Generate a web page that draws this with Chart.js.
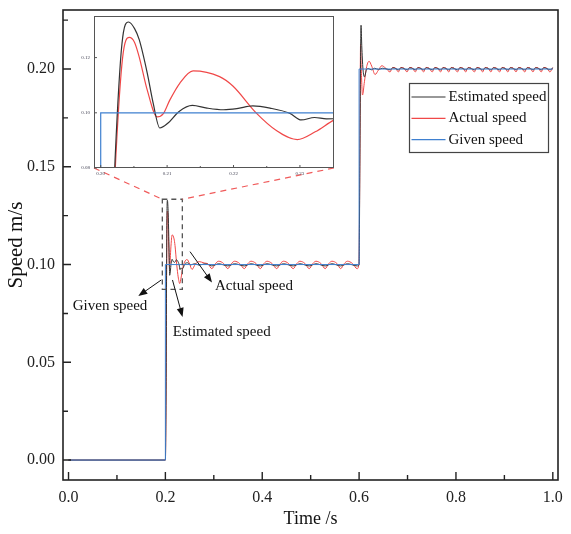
<!DOCTYPE html>
<html>
<head>
<meta charset="utf-8">
<script src="https://cdn.jsdelivr.net/npm/chart.js@4.4.0/dist/chart.umd.min.js"></script>
<style>
  html, body { margin: 0; padding: 0; background: #fff; }
  #wrap { position: relative; width: 571px; height: 534px; }
  canvas { position: absolute; }
</style>
</head>
<body>
<div id="wrap">
  <canvas id="main" width="571" height="534"></canvas>
  <canvas id="inset" width="262" height="172"></canvas>
</div>
<script>
const SERIF = '"Liberation Serif", "Times New Roman", serif';

const seriesNames = ['Estimated speed', 'Actual speed', 'Given speed'];
const seriesColors = ['#333333', '#f04848', '#3f80d0'];

// given speed (reference steps)
const givenT = [0, 0.2, 0.2, 0.6, 0.6, 1.0];
const givenV = [0, 0, 0.1, 0.1, 0.2, 0.2];

// estimated speed
const estT = [
  0, 0.2, 0.2015, 0.2022, 0.2032, 0.2042, 0.2051, 0.2058, 0.207, 0.2079,
  0.2089, 0.2101, 0.2118, 0.2138, 0.216, 0.2185, 0.2205, 0.2229, 0.2255, 0.2285,
  0.2302, 0.2322, 0.234, 0.2365, 0.24, 0.246, 0.252, 0.26, 0.27, 0.28, 0.288,
  0.296, 0.310, 0.329, 0.343, 0.363, 0.377, 0.396, 0.410, 0.430, 0.444,
  0.464, 0.478, 0.497, 0.511, 0.530, 0.544, 0.562, 0.576, 0.596,
  0.6, 0.6015, 0.6028, 0.604, 0.6055, 0.608, 0.611, 0.615, 0.619, 0.625, 0.632, 0.64, 0.648, 0.656,
  0.664, 0.670, 0.676, 0.681, 0.687, 0.693, 0.699, 0.705, 0.711, 0.716, 0.722, 0.728,
  0.733, 0.739, 0.745, 0.751, 0.757, 0.763, 0.768, 0.774, 0.780, 0.785, 0.791, 0.797,
  0.803, 0.809, 0.815, 0.820, 0.826, 0.832, 0.838, 0.844, 0.850, 0.855, 0.861, 0.867,
  0.872, 0.878, 0.884, 0.890, 0.896, 0.902, 0.907, 0.913, 0.919, 0.924, 0.930, 0.936,
  0.942, 0.948, 0.954, 0.959, 0.965, 0.971, 0.976, 0.982, 0.988, 0.994, 1.0
];
const estV = [
  0, 0, 0.04, 0.085, 0.125, 0.1329, 0.1305, 0.1265, 0.1145, 0.1035,
  0.0945, 0.0962, 0.1005, 0.1027, 0.1017, 0.1011, 0.1015, 0.1025, 0.1017, 0.0998,
  0.0974, 0.0983, 0.0978, 0.0981, 0.1003, 0.1009, 0.0998, 0.1004, 0.0997, 0.1003, 0.1001,
  0.0993, 0.1004, 0.0993, 0.1004, 0.0993, 0.1004, 0.0993, 0.1004, 0.0993, 0.1004,
  0.0993, 0.1004, 0.0993, 0.1004, 0.0993, 0.1004, 0.0993, 0.1004, 0.0993,
  0.1, 0.15, 0.2, 0.2224, 0.212, 0.2, 0.196, 0.1995, 0.2003, 0.1996, 0.2004, 0.1998, 0.2004, 0.2001,
  0.1996, 0.2006, 0.2002, 0.1996, 0.2006, 0.2002, 0.1996, 0.2006, 0.2002, 0.1996, 0.2006, 0.2002,
  0.1996, 0.2006, 0.2002, 0.1996, 0.2006, 0.2002, 0.1996, 0.2006, 0.2002, 0.1996, 0.2006, 0.2002,
  0.1996, 0.2006, 0.2002, 0.1996, 0.2006, 0.2002, 0.1996, 0.2006, 0.2002, 0.1996, 0.2006, 0.2002,
  0.1996, 0.2006, 0.2002, 0.1996, 0.2006, 0.2002, 0.1996, 0.2006, 0.2002, 0.1996, 0.2006, 0.2002,
  0.1996, 0.2006, 0.2002, 0.1996, 0.2006, 0.2002, 0.1996, 0.2006, 0.2002, 0.1996, 0.2006
];

// actual speed
const actT = [
  0, 0.2, 0.2015, 0.2023, 0.2033, 0.2043, 0.2051, 0.2058, 0.207, 0.2085,
  0.2094, 0.2104, 0.2119, 0.2139, 0.2179, 0.2199, 0.2234, 0.2264, 0.2296, 0.2323,
  0.2353, 0.2395, 0.2447, 0.25, 0.255, 0.262, 0.27, 0.28, 0.288,
  0.296, 0.303, 0.310, 0.320, 0.329, 0.336, 0.343, 0.353, 0.363, 0.370, 0.377, 0.387,
  0.396, 0.403, 0.410, 0.420, 0.430, 0.437, 0.444, 0.454, 0.464, 0.471, 0.478, 0.488,
  0.497, 0.504, 0.511, 0.521, 0.530, 0.537, 0.544, 0.554, 0.562, 0.569, 0.576, 0.586, 0.596,
  0.5995, 0.6015, 0.603, 0.6045, 0.607, 0.611, 0.615, 0.6206, 0.626, 0.633, 0.64, 0.647, 0.655,
  0.664, 0.669, 0.675, 0.681, 0.686, 0.692, 0.699, 0.704, 0.710, 0.716, 0.721, 0.727,
  0.733, 0.738, 0.744, 0.751, 0.756, 0.762, 0.768, 0.773, 0.779, 0.785, 0.790, 0.796,
  0.803, 0.808, 0.814, 0.820, 0.825, 0.831, 0.838, 0.843, 0.849, 0.855, 0.860, 0.866,
  0.872, 0.877, 0.883, 0.890, 0.895, 0.901, 0.907, 0.912, 0.918, 0.924, 0.929, 0.935,
  0.942, 0.947, 0.953, 0.959, 0.964, 0.970, 0.976, 0.981, 0.987, 0.994, 1.0
];
const actV = [
  0, 0, 0.04, 0.085, 0.12, 0.1273, 0.1255, 0.1202, 0.1083, 0.0985,
  0.0996, 0.1046, 0.1107, 0.1152, 0.1131, 0.1097, 0.1, 0.0937, 0.0903, 0.0931,
  0.0976, 0.1012, 0.1026, 0.1003, 0.0975, 0.1003, 0.1015, 0.1008, 0.1003,
  0.0979, 0.1004, 0.1017, 0.1006, 0.0979, 0.1004, 0.1017, 0.1006, 0.0979, 0.1004, 0.1017, 0.1006,
  0.0979, 0.1004, 0.1017, 0.1006, 0.0979, 0.1004, 0.1017, 0.1006, 0.0979, 0.1004, 0.1017, 0.1006,
  0.0979, 0.1004, 0.1017, 0.1006, 0.0979, 0.1004, 0.1017, 0.1006, 0.0979, 0.1004, 0.1017, 0.1006, 0.0979,
  0.1, 0.15, 0.2126, 0.2, 0.1867, 0.1935, 0.2005, 0.204, 0.2015, 0.1972, 0.1995, 0.2017, 0.2004,
  0.1985, 0.2008, 0.2006, 0.1985, 0.2008, 0.2006, 0.1985, 0.2008, 0.2006, 0.1985, 0.2008, 0.2006,
  0.1985, 0.2008, 0.2006, 0.1985, 0.2008, 0.2006, 0.1985, 0.2008, 0.2006, 0.1985, 0.2008, 0.2006,
  0.1985, 0.2008, 0.2006, 0.1985, 0.2008, 0.2006, 0.1985, 0.2008, 0.2006, 0.1985, 0.2008, 0.2006,
  0.1985, 0.2008, 0.2006, 0.1985, 0.2008, 0.2006, 0.1985, 0.2008, 0.2006, 0.1985, 0.2008, 0.2006,
  0.1985, 0.2008, 0.2006, 0.1985, 0.2008, 0.2006, 0.1985, 0.2008, 0.2006, 0.1985, 0.2007
];

// tick values
const xMajor = [0, 0.2, 0.4, 0.6, 0.8, 1.0];
const xMinor = [0.1, 0.3, 0.5, 0.7, 0.9];
const yMajor = [0, 0.05, 0.10, 0.15, 0.20];
const yMinor = [0.025, 0.075, 0.125, 0.175, 0.225];
const insetXMajor = [0.20, 0.21, 0.22, 0.23];
const insetXMinor = [0.205, 0.215, 0.225];
const insetYMajor = [0.08, 0.10, 0.12];

// zoom window marked on the main plot, and annotation labels (data units)
const zoomBox = { x0: 0.1937, x1: 0.235, y0: 0.0873, y1: 0.1334 };
const notes = [
  { text: 'Given speed',     x: 0.0087, y: 0.0788, from: [0.1915, 0.0921], to: [0.1441, 0.0839] },
  { text: 'Estimated speed', x: 0.2152, y: 0.0656, from: [0.2147, 0.0921], to: [0.2355, 0.0732] },
  { text: 'Actual speed',    x: 0.3025, y: 0.0890, from: [0.2509, 0.1066], to: [0.2963, 0.0908] }
];

const INSET_LEFT = 80, INSET_TOP = 8;
document.getElementById('main').style.left = '0px';
document.getElementById('main').style.top = '0px';
document.getElementById('inset').style.left = INSET_LEFT + 'px';
document.getElementById('inset').style.top = INSET_TOP + 'px';

const xy = (t, v) => t.map((x, i) => ({ x: x, y: v[i] }));

function makeSets(width) {
  return [
    { label: seriesNames[0], data: xy(estT, estV), borderColor: seriesColors[0], borderWidth: width,
      cubicInterpolationMode: 'monotone', pointRadius: 0, order: 1 },
    { label: seriesNames[1], data: xy(actT, actV), borderColor: seriesColors[1], borderWidth: width,
      cubicInterpolationMode: 'monotone', pointRadius: 0, order: 2 },
    { label: seriesNames[2], data: xy(givenT, givenV), borderColor: seriesColors[2], borderWidth: width,
      tension: 0, pointRadius: 0, order: 0 }
  ];
}

// fixed-size axis boxes, no extra room for edge labels
function fixX(h) { return s => { s.height = h; s.paddingLeft = 0; s.paddingRight = 0; }; }
function fixY(w) { return s => { s.width = w; s.paddingTop = 0; s.paddingBottom = 0; }; }

function drawArrow(ctx, x1, y1, x2, y2) {
  const a = Math.atan2(y2 - y1, x2 - x1);
  const len = 9, w = 3.5;
  ctx.beginPath();
  ctx.moveTo(x1, y1);
  ctx.lineTo(x2 - Math.cos(a) * len * 0.7, y2 - Math.sin(a) * len * 0.7);
  ctx.stroke();
  ctx.beginPath();
  ctx.moveTo(x2, y2);
  ctx.lineTo(x2 - len * Math.cos(a) + w * Math.sin(a), y2 - len * Math.sin(a) - w * Math.cos(a));
  ctx.lineTo(x2 - len * Math.cos(a) - w * Math.sin(a), y2 - len * Math.sin(a) + w * Math.cos(a));
  ctx.closePath();
  ctx.fill();
}

// inset: white plot area, thin frame and inward ticks
const insetDeco = {
  id: 'insetDeco',
  beforeDatasetsDraw(chart) {
    const { ctx, chartArea: a } = chart;
    ctx.save();
    ctx.fillStyle = '#fff';
    ctx.fillRect(a.left, a.top, a.right - a.left, a.bottom - a.top);
    ctx.restore();
  },
  afterDatasetsDraw(chart) {
    const { ctx, chartArea: a, scales: { x, y } } = chart;
    ctx.save();
    ctx.strokeStyle = '#555';
    ctx.lineWidth = 1;
    ctx.strokeRect(a.left + 0.5, a.top + 0.5, a.right - a.left - 1, a.bottom - a.top - 1);
    ctx.beginPath();
    insetXMajor.forEach(v => { const p = x.getPixelForValue(v); ctx.moveTo(p, a.bottom); ctx.lineTo(p, a.bottom - 3); });
    insetXMinor.forEach(v => { const p = x.getPixelForValue(v); ctx.moveTo(p, a.bottom); ctx.lineTo(p, a.bottom - 2); });
    insetYMajor.forEach(v => { const p = y.getPixelForValue(v); ctx.moveTo(a.left, p); ctx.lineTo(a.left + 3, p); });
    ctx.stroke();
    ctx.restore();
  }
};

const inset = new Chart(document.getElementById('inset'), {
  type: 'line',
  data: { datasets: makeSets(1.2) },
  options: {
    responsive: false,
    animation: false,
    events: [],
    layout: { padding: { left: 0, top: 8, right: 8, bottom: 0 } },
    plugins: { legend: { display: false }, tooltip: { enabled: false } },
    scales: {
      x: {
        type: 'linear', min: 0.19899, max: 0.23513,
        afterFit: fixX(12),
        afterBuildTicks: s => { s.ticks = insetXMajor.map(v => ({ value: v })); },
        grid: { display: false, drawTicks: false },
        border: { display: false },
        ticks: { padding: 3, color: '#445', font: { family: SERIF, size: 5 }, maxRotation: 0, autoSkip: false,
          callback: v => v.toFixed(2) }
      },
      y: {
        type: 'linear', min: 0.08, max: 0.13507,
        afterFit: fixY(14),
        afterBuildTicks: s => { s.ticks = insetYMajor.map(v => ({ value: v })); },
        grid: { display: false, drawTicks: false },
        border: { display: false },
        ticks: { padding: 4, color: '#445', font: { family: SERIF, size: 5 }, autoSkip: false,
          callback: v => v.toFixed(2) }
      }
    }
  },
  plugins: [insetDeco]
});

// main: frame, inward ticks, zoom box, connectors, notes and legend
const mainDeco = {
  id: 'mainDeco',
  afterDatasetsDraw(chart) {
    const { ctx, chartArea: a, scales: { x, y } } = chart;
    ctx.save();

    ctx.strokeStyle = '#222';
    ctx.lineWidth = 1.6;
    ctx.strokeRect(a.left, a.top, a.right - a.left, a.bottom - a.top);

    ctx.lineWidth = 1.4;
    ctx.beginPath();
    xMajor.forEach(v => { const p = x.getPixelForValue(v); ctx.moveTo(p, a.bottom); ctx.lineTo(p, a.bottom - 8); });
    xMinor.forEach(v => { const p = x.getPixelForValue(v); ctx.moveTo(p, a.bottom); ctx.lineTo(p, a.bottom - 5); });
    yMajor.forEach(v => { const p = y.getPixelForValue(v); ctx.moveTo(a.left, p); ctx.lineTo(a.left + 8, p); });
    yMinor.forEach(v => { const p = y.getPixelForValue(v); ctx.moveTo(a.left, p); ctx.lineTo(a.left + 5, p); });
    ctx.stroke();

    // dashed zoom window
    const bx0 = x.getPixelForValue(zoomBox.x0), bx1 = x.getPixelForValue(zoomBox.x1);
    const by0 = y.getPixelForValue(zoomBox.y0), by1 = y.getPixelForValue(zoomBox.y1);
    ctx.strokeStyle = '#555';
    ctx.lineWidth = 1.3;
    ctx.setLineDash([5, 4]);
    ctx.strokeRect(bx0, by1, bx1 - bx0, by0 - by1);

    // red connectors to the inset's lower corners
    const ia = inset.chartArea;
    ctx.strokeStyle = '#f05a5a';
    ctx.lineWidth = 1.2;
    ctx.setLineDash([6, 5]);
    ctx.beginPath();
    ctx.moveTo(INSET_LEFT + ia.left, INSET_TOP + ia.bottom);
    ctx.lineTo(bx0, by1);
    ctx.moveTo(INSET_LEFT + ia.right, INSET_TOP + ia.bottom);
    ctx.lineTo(bx1, by1);
    ctx.stroke();
    ctx.setLineDash([]);

    // annotations
    ctx.strokeStyle = '#111';
    ctx.fillStyle = '#111';
    ctx.lineWidth = 1;
    ctx.font = '15px ' + SERIF;
    ctx.textBaseline = 'middle';
    ctx.textAlign = 'left';
    notes.forEach(n => {
      drawArrow(ctx, x.getPixelForValue(n.from[0]), y.getPixelForValue(n.from[1]),
                x.getPixelForValue(n.to[0]), y.getPixelForValue(n.to[1]));
      ctx.fillText(n.text, x.getPixelForValue(n.x), y.getPixelForValue(n.y));
    });

    // legend box
    const lx = 409.5, ly = 83.5, lw = 139, lh = 69;
    ctx.fillStyle = '#fff';
    ctx.fillRect(lx, ly, lw, lh);
    ctx.strokeStyle = '#444';
    ctx.lineWidth = 1.2;
    ctx.strokeRect(lx, ly, lw, lh);
    seriesNames.forEach((name, i) => {
      const ry = ly + 13.5 + i * 21.3;
      ctx.strokeStyle = seriesColors[i];
      ctx.lineWidth = 1.2;
      ctx.beginPath();
      ctx.moveTo(lx + 2, ry);
      ctx.lineTo(lx + 36, ry);
      ctx.stroke();
      ctx.fillStyle = '#111';
      ctx.fillText(name, lx + 39, ry);
    });

    ctx.restore();
  }
};

new Chart(document.getElementById('main'), {
  type: 'line',
  data: { datasets: makeSets(1) },
  options: {
    responsive: false,
    animation: false,
    events: [],
    layout: { padding: { left: 0, top: 10, right: 13, bottom: 0 } },
    plugins: { legend: { display: false }, tooltip: { enabled: false } },
    scales: {
      x: {
        type: 'linear', min: -0.0114, max: 1.0107,
        afterFit: fixX(54),
        afterBuildTicks: s => { s.ticks = xMajor.map(v => ({ value: v })); },
        grid: { display: false, drawTicks: false },
        border: { display: false },
        ticks: { padding: 8, color: '#222', font: { family: SERIF, size: 16 }, maxRotation: 0, autoSkip: false,
          callback: v => v.toFixed(1) },
        title: { display: true, text: 'Time /s', color: '#111', font: { family: SERIF, size: 18 },
          padding: { top: 0, bottom: 4 } }
      },
      y: {
        type: 'linear', min: -0.0102, max: 0.2302,
        afterFit: fixY(63),
        afterBuildTicks: s => { s.ticks = yMajor.map(v => ({ value: v })); },
        grid: { display: false, drawTicks: false },
        border: { display: false },
        ticks: { padding: 8, color: '#222', font: { family: SERIF, size: 16 }, autoSkip: false,
          callback: v => v.toFixed(2) },
        title: { display: true, text: 'Speed m/s', color: '#111', font: { family: SERIF, size: 21 },
          padding: { top: 4, bottom: 0 } }
      }
    }
  },
  plugins: [mainDeco]
});
</script>
</body>
</html>
